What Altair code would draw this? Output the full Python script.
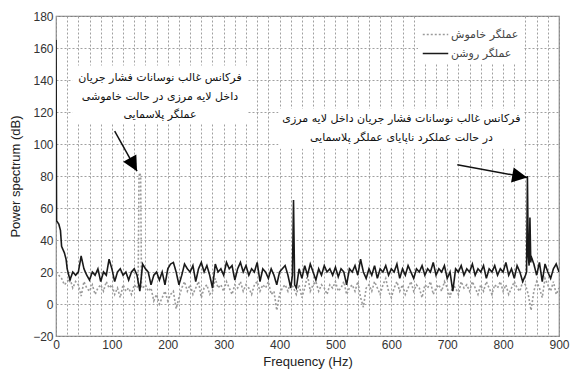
import altair as alt
import pandas as pd

OFF = "عملگر خاموش"
ON = "عملگر روشن"

# base sampling grid (Hz)
base_freq = list(range(0, 905, 5))

on_vals = [
    165, 50, 36, 32, 22, 15, 20, 18, 20, 30, 22, 18, 15, 20, 18, 22, 14, 20, 18, 28,
    22, 14, 20, 22, 18, 20, 15, 20, 22, 18, 8, 25, 22, 20, 12, 18, 20, 15, 20, 12,
    22, 25, 26, 20, 12, 18, 25, 22, 20, 24, 14, 22, 26, 20, 24, 18, 10, 25, 20, 22,
    18, 26, 22, 24, 15, 22, 26, 20, 24, 18, 22, 20, 26, 14, 22, 20, 16, 22, 18, 12,
    20, 22, 24, 18, 10, 65, 10, 22, 16, 24, 18, 25, 20, 15, 22, 18, 24, 20, 22, 18,
    23, 17, 22, 20, 12, 22, 20, 24, 18, 28, 20, 16, 22, 18, 24, 16, 22, 20, 24, 18,
    22, 20, 25, 16, 22, 18, 24, 20, 16, 22, 20, 24, 18, 22, 20, 26, 18, 22, 20, 24,
    16, 20, 8, 22, 20, 24, 18, 22, 20, 25, 18, 22, 20, 24, 16, 22, 20, 24, 18, 22,
    20, 26, 18, 22, 16, 24, 20, 14, 18, 30, 30, 25, 18, 26, 14, 25, 20, 16, 22, 25,
    20,
]
on_extra_f = [1, 8, 18, 423, 427, 842, 843.5, 846.5, 848, 849.5]
on_extra_v = [52, 46, 28, 18, 12, 20, 80, 24, 54, 26]

off_vals = [
    20, 18, 16, 12, 14, 16, 10, 14, 12, 5, 14, 10, 8, 12, 6, 10, 12, 8, 14, 10,
    12, 6, 10, 4, 12, 8, 10, 6, 12, 10, 82, 10, 12, 8, 10, 2, 6, 0, 4, 8,
    2, 6, 8, -3, 4, 10, 14, 8, 12, 6, 10, 14, 4, 10, 12, 6, 8, 16, 10, 12,
    8, 14, 10, 6, 12, 10, 14, 8, 12, 10, 6, 12, 14, 8, 12, 10, 14, 6, 8, -4,
    6, 10, 12, 8, 14, 10, 6, 12, 4, 10, 18, 8, 12, 14, 8, 12, 10, 6, 12, 10,
    14, 8, 10, 14, 6, 10, 12, 8, 14, 4, -2, 10, 12, 8, 14, 10, 6, 12, 16, 8,
    4, 10, 14, 8, 12, 6, 10, 14, 8, 12, 10, 4, 12, 10, 14, 6, 10, 12, 8, 14,
    10, 4, 12, 10, 6, 14, 10, 12, 8, 14, 10, 6, 12, 8, 14, 10, 6, 12, 10, 14,
    8, 12, 6, 10, 14, 10, 8, 14, 12, 6, -4, 8, 14, 10, 4, 16, 12, 8, 14, 6,
    10,
]
off_extra_f = [147, 148.5, 151.5, 153]
off_extra_v = [12, 80, 80, 10]

x_ticks = list(range(0, 901, 20))
y_ticks = list(range(-20, 181, 20))

# annotations
ann_text = [
    "فرکانس غالب نوسانات فشار جریان",
    "داخل لایه مرزی در حالت خاموشی",
    "عملگر پلاسمایی",
    "فرکانس غالب نوسانات فشار جریان  داخل لایه مرزی",
    "در حالت عملکرد ناپایای عملگر پلاسمایی",
]
ann_x = [186, 186, 186, 618, 618]
ann_y = [141, 129.5, 118, 115.5, 104]

box_x1 = [29, 398]
box_x2 = [343, 837]
box_y1 = [113, 97]
box_y2 = [149, 122]

arrow_x1 = [105, 718]
arrow_y1 = [108, 87]
arrow_x2 = [145, 843]
arrow_y2 = [83, 79]
arrow_angle = [151, 100]

assert len(on_vals) == len(base_freq) and len(off_vals) == len(base_freq)

rows = []
for f, v in zip(base_freq + on_extra_f, on_vals + on_extra_v):
    rows.append({"f": f, "v": v, "s": ON})
for f, v in zip(base_freq + off_extra_f, off_vals + off_extra_v):
    rows.append({"f": f, "v": v, "s": OFF})
df = pd.DataFrame(rows).sort_values(["s", "f"])

xscale = alt.Scale(domain=[0, 900], nice=False, zero=False)
yscale = alt.Scale(domain=[-20, 180], nice=False, zero=False)

lines = alt.Chart(df).mark_line(strokeWidth=1.6, clip=True).encode(
    x=alt.X("f:Q", scale=xscale, title="Frequency (Hz)",
            axis=alt.Axis(values=x_ticks, tickCount=100, labelOverlap=False, labelFlush=False,
                          labelExpr="datum.value % 100 == 0 ? datum.label : ''",
                          titlePadding=5, labelPadding=3)),
    y=alt.Y("v:Q", scale=yscale, title="Power spectrum (dB)",
            axis=alt.Axis(values=y_ticks, tickCount=30, labelOverlap=False, labelFlush=False,
                          titlePadding=10, labelPadding=3)),
    color=alt.Color("s:N", scale=alt.Scale(domain=[OFF, ON], range=["#9a9a9a", "#1a1a1a"]),
                    legend=alt.Legend(title=None)),
    strokeDash=alt.StrokeDash("s:N", scale=alt.Scale(domain=[OFF, ON], range=[[2, 2], [1, 0]]),
                              legend=alt.Legend(title=None)),
    order=alt.Order("f:Q"),
)

boxes = alt.Chart(pd.DataFrame({"x1": box_x1, "x2": box_x2, "y1": box_y1, "y2": box_y2})).mark_rect(
    fill="white").encode(x="x1:Q", x2="x2:Q", y="y1:Q", y2="y2:Q")

texts = alt.Chart(pd.DataFrame({"x": ann_x, "y": ann_y, "t": ann_text})).mark_text(
    font="DejaVu Sans", fontSize=11, color="#111111", align="center", baseline="middle").encode(
    x="x:Q", y="y:Q", text="t:N")

shafts = alt.Chart(pd.DataFrame({"x1": arrow_x1, "y1": arrow_y1, "x2": arrow_x2, "y2": arrow_y2})).mark_rule(
    color="#111111", strokeWidth=1.5).encode(x="x1:Q", y="y1:Q", x2="x2:Q", y2="y2:Q")

heads = alt.Chart(pd.DataFrame({"x": arrow_x2, "y": arrow_y2, "a": arrow_angle})).mark_point(
    shape="M0,0L-0.5,1L0.5,1Z", filled=True, color="#000000", opacity=1, size=900).encode(
    x="x:Q", y="y:Q", angle=alt.Angle("a:Q", scale=None))

chart = alt.layer(lines, boxes, texts, shafts, heads).properties(
    width=503, height=320,
    autosize=alt.AutoSizeParams(type="none"),
    padding={"left": 56, "top": 16, "right": 12, "bottom": 35},
).configure_view(stroke="#808080", strokeWidth=1.2).configure_axis(
    grid=True, gridColor="#a0a0a0", gridDash=[2, 2], gridWidth=1,
    domain=False, ticks=False,
    labelFont="Liberation Sans", labelFontSize=12, labelColor="#333333",
    titleFont="Liberation Sans", titleFontSize=13, titleFontWeight="normal", titleColor="#222222",
).configure_legend(
    orient="none", legendX=362, legendY=1, fillColor="white", padding=4,
    symbolType="stroke", symbolSize=650, symbolStrokeWidth=1.5, labelOffset=2,
    labelFont="DejaVu Sans", labelFontSize=11, labelColor="#444444", rowPadding=-3,
)

chart.save("out.html", embed_options={"renderer": "svg", "actions": False})
